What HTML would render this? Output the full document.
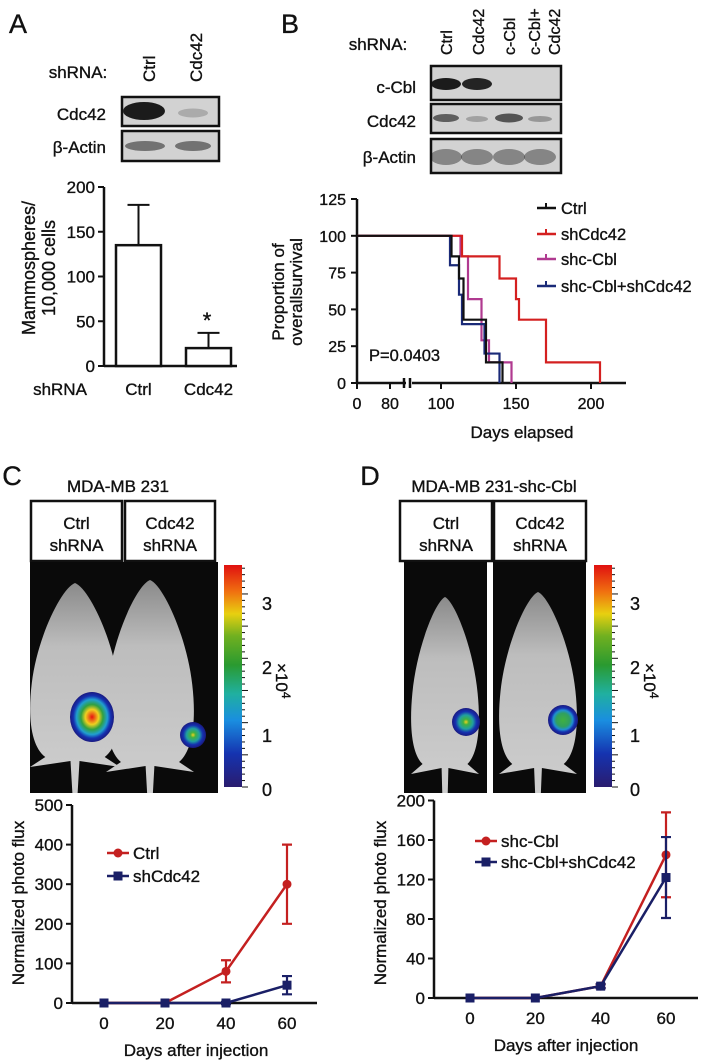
<!DOCTYPE html>
<html><head><meta charset="utf-8"><style>
html,body{margin:0;padding:0;background:#fff}
svg{display:block;font-family:"Liberation Sans",Arial,sans-serif}
svg text{stroke:#111;stroke-width:0.35px}
</style></head><body>
<svg id="fig" width="705" height="1064" viewBox="0 0 705 1064" xmlns="http://www.w3.org/2000/svg">
<defs>
<linearGradient id="cbar" x1="0" y1="1" x2="0" y2="0">
<stop offset="0" stop-color="#2a1c6e"/><stop offset="0.15" stop-color="#1533b0"/><stop offset="0.3" stop-color="#1a8ee0"/>
<stop offset="0.42" stop-color="#20b0a0"/><stop offset="0.55" stop-color="#2a9a30"/><stop offset="0.68" stop-color="#70b020"/>
<stop offset="0.78" stop-color="#e8d010"/><stop offset="0.88" stop-color="#f07010"/><stop offset="1" stop-color="#e01010"/>
</linearGradient>
<radialGradient id="blob"><stop offset="0" stop-color="#e81010"/><stop offset="0.3" stop-color="#f0d020"/><stop offset="0.5" stop-color="#30a040"/><stop offset="0.7" stop-color="#20a0d0"/><stop offset="0.85" stop-color="#1530b0"/><stop offset="1" stop-color="#1a1a80"/></radialGradient>
<radialGradient id="blobS"><stop offset="0" stop-color="#f0d020"/><stop offset="0.2" stop-color="#40b040"/><stop offset="0.5" stop-color="#20a0a0"/><stop offset="0.75" stop-color="#1530b0"/><stop offset="1" stop-color="#1a1a80"/></radialGradient>
<radialGradient id="blobG"><stop offset="0" stop-color="#40b040"/><stop offset="0.45" stop-color="#30a060"/><stop offset="0.65" stop-color="#2090d0"/><stop offset="0.8" stop-color="#1530b0"/><stop offset="1" stop-color="#1a1a80"/></radialGradient>
<linearGradient id="fur" x1="0" y1="0" x2="0" y2="1"><stop offset="0" stop-color="#8a8a8a"/><stop offset="0.3" stop-color="#bdbdbd"/><stop offset="1" stop-color="#cfcfcf"/></linearGradient>
<clipPath id="clipC"><rect x="30" y="562" width="188" height="231"/></clipPath>
<clipPath id="clipD1"><rect x="404" y="562" width="83" height="231"/></clipPath>
<clipPath id="clipD2"><rect x="493" y="562" width="93" height="231"/></clipPath>
</defs>
</svg>
<script>
// ---------- data ----------
const barCats = ['Ctrl', 'Cdc42'];
const barVals = [135, 20];
const barErr = [45, 17];
const barTicks = [0, 50, 100, 150, 200];

const kmNames = ['Ctrl', 'shCdc42', 'shc-Cbl', 'shc-Cbl+shCdc42'];
const kmColors = ['#111111', '#d42020', '#b03a90', '#1a2a78'];
const kmTimesCtrl = [107, 112, 115, 130, 141];
const kmSurvCtrl = [86, 71, 43, 14, 0];
const kmTimesSh = [114, 139, 150, 152, 170, 206];
const kmSurvSh = [86, 71, 57, 43, 14, 0];
const kmTimesCbl = [113, 118, 127, 132, 147];
const kmSurvCbl = [86, 57, 29, 14, 0];
const kmTimesBoth = [106, 112, 114, 129, 139];
const kmSurvBoth = [80, 60, 40, 20, 0];
const kmYTicks = [0, 25, 50, 75, 100, 125];
const kmXTicks = [0, 80, 100, 150, 200];

const fluxDays = [0, 20, 40, 60];
const cCtrl = [0, 0, 80, 300];
const cCtrlErr = [0, 0, 28, 100];
const cSh = [0, 0, 0, 45];
const cShErr = [0, 0, 3, 23];
const cYTicks = [0, 100, 200, 300, 400, 500];
const dCbl = [0, 0, 12, 145];
const dCblErr = [0, 0, 2, 43];
const dBoth = [0, 0, 12, 122];
const dBothErr = [0, 0, 2, 41];
const dYTicks = [0, 40, 80, 120, 160, 200];

const NS = 'http://www.w3.org/2000/svg';
const svg = document.getElementById('fig');
function mk(tag, attrs, parent) {
  const e = document.createElementNS(NS, tag);
  for (const k in attrs) e.setAttribute(k, attrs[k]);
  (parent || svg).appendChild(e);
  return e;
}
function txt(x, y, s, size, opts) {
  opts = opts || {};
  const t = mk('text', {x: x, y: y, 'font-size': size, 'text-anchor': opts.anchor || 'middle', fill: opts.fill || '#111'}, opts.parent);
  if (opts.rot) t.setAttribute('transform', 'rotate(' + opts.rot + ' ' + x + ' ' + y + ')');
  t.textContent = s;
  return t;
}

// ---------- Panel labels ----------
let e;
e = txt(18, 33, 'A', 27, {});


e = txt(290, 33, 'B', 27, {});


e = txt(12, 485, 'C', 27, {});


e = txt(370, 485, 'D', 27, {});



// ---------- Blots ----------
function blotBox(x, y, w, h, name) {
  const b = mk('rect', {x: x, y: y, width: w, height: h, fill: '#d2d2d2', stroke: '#111', 'stroke-width': 2.5});
  
  
  return b;
}
function band(cx, cy, w, h, op, name) {
  const b = mk('ellipse', {cx: cx, cy: cy, rx: w / 2, ry: h / 2, fill: '#111', opacity: op});
  
  
}
e = txt(78, 78, 'shRNA:', 17, {});


e = txt(155, 82, 'Ctrl', 17, {anchor: 'start', rot: -90});


e = txt(202, 82, 'Cdc42', 17, {anchor: 'start', rot: -90});


blotBox(122, 97, 97, 29, 'blot-a-cdc42');
band(144, 111, 42, 18, 0.95, 'band-a-cdc42-ctrl');
band(193, 113, 30, 9, 0.2, 'band-a-cdc42-kd');
blotBox(122, 131, 97, 30, 'blot-a-actin');
band(145, 146, 40, 10, 0.5, 'band-a-actin-ctrl');
band(193, 146, 36, 10, 0.5, 'band-a-actin-kd');
e = txt(106, 120, 'Cdc42', 17, {anchor: 'end'});


e = txt(106, 153, 'β-Actin', 17, {anchor: 'end'});



e = txt(378, 50, 'shRNA:', 17, {});


const laneB = [['Ctrl'], ['Cdc42'], ['c-Cbl'], ['c-Cbl+', 'Cdc42']];
const laneX = [452, 484, 515, 540];
laneB.forEach((l, i) => {
  l.forEach((s, j) => {
    const t = txt(laneX[i] + j * 20, 55, s, 16, {anchor: 'start', rot: -90});
    
    
  });
});
blotBox(431, 66, 130, 34, 'blot-b-ccbl');
blotBox(431, 104, 130, 29, 'blot-b-cdc42');
blotBox(431, 139, 130, 34, 'blot-b-actin');
band(446, 84, 30, 12, 0.95, 'band-b-ccbl-1');
band(477, 84, 30, 12, 0.9, 'band-b-ccbl-2');
band(446, 118, 26, 8, 0.6, 'band-b-cdc42-1');
band(477, 119, 22, 6, 0.25, 'band-b-cdc42-2');
band(509, 118, 28, 9, 0.65, 'band-b-cdc42-3');
band(540, 119, 24, 6, 0.3, 'band-b-cdc42-4');
[446, 477, 509, 540].forEach(x => band(x, 157, 32, 16, 0.4, 'band-b-actin'));
[['c-Cbl', 93], ['Cdc42', 127], ['β-Actin', 163]].forEach(p => {
  const t = txt(416, p[1], p[0], 17, {anchor: 'end'});
  
  
});

// ---------- Bar chart A ----------
const yA = v => 366 - v * (179 / 200);
const xA = i => 138.5 + i * 70;
const gA = mk('g', {});


e = mk('line', {x1: 104, y1: yA(200), x2: 104, y2: 366, stroke: '#111', 'stroke-width': 2.5}, gA);


e = mk('line', {x1: 104, y1: 366, x2: 237, y2: 366, stroke: '#111', 'stroke-width': 2.5}, gA);


barTicks.forEach(v => {
  const l = mk('line', {x1: 98, y1: yA(v), x2: 104, y2: yA(v), stroke: '#111', 'stroke-width': 2}, gA);
  
  
  const t = txt(95, yA(v) + 6, String(v), 17, {anchor: 'end', parent: gA});
  
  
});
barCats.forEach((c, i) => {
  const er = mk('line', {x1: xA(i), y1: yA(barVals[i] + barErr[i]), x2: xA(i), y2: yA(barVals[i]), stroke: '#111', 'stroke-width': 2}, gA);
  
  
  const cap = mk('line', {x1: xA(i) - 11, y1: yA(barVals[i] + barErr[i]), x2: xA(i) + 11, y2: yA(barVals[i] + barErr[i]), stroke: '#111', 'stroke-width': 2}, gA);
  
  
  const b = mk('rect', {x: xA(i) - 22.5, y: yA(barVals[i]), width: 45, height: 366 - yA(barVals[i]), fill: '#fff', stroke: '#111', 'stroke-width': 2.5}, gA);
  
  
  const t = txt(xA(i), 395, c, 17, {parent: gA});
  
  
});
e = txt(207, 328, '*', 22, {});


e = txt(60, 395, 'shRNA', 17, {});


e = txt(35, 268, 'Mammospheres/', 18, {rot: -90});


e = txt(55, 268, '10,000 cells', 18, {rot: -90});



// ---------- KM chart B ----------
const yK = v => 383 - v * (184 / 125);
const xK = d => d <= 80 ? 357 + d * (33 / 80) : 441 + (d - 100) * 1.5;
const gK = mk('g', {});


e = mk('line', {x1: 357, y1: yK(125), x2: 357, y2: 383, stroke: '#111', 'stroke-width': 2.5}, gK);


e = mk('path', {d: 'M357 383 H406 M412 383 H626 M404 378 V388 M410 378 V388', stroke: '#111', 'stroke-width': 2.5, fill: 'none'}, gK);


kmYTicks.forEach(v => {
  const l = mk('line', {x1: 351, y1: yK(v), x2: 357, y2: yK(v), stroke: '#111', 'stroke-width': 2}, gK);
  
  
  const t = txt(346, yK(v) + 6, String(v), 16, {anchor: 'end', parent: gK});
  
  
});
kmXTicks.forEach(v => {
  const l = mk('line', {x1: xK(v), y1: 383, x2: xK(v), y2: 389, stroke: '#111', 'stroke-width': 2}, gK);
  
  
  const t = txt(xK(v), 409, String(v), 16, {parent: gK});
  
  
});
const kmT = [kmTimesCtrl, kmTimesSh, kmTimesCbl, kmTimesBoth];
const kmS = [kmSurvCtrl, kmSurvSh, kmSurvCbl, kmSurvBoth];
[2, 3, 1, 0].forEach(g => {
  let d = 'M' + xK(0) + ' ' + yK(100);
  kmT[g].forEach((t, i) => {
    d += ' H' + xK(t) + ' V' + yK(kmS[g][i]);
  });
  const p = mk('path', {d: d, stroke: kmColors[g], 'stroke-width': 2.2, fill: 'none'}, gK);
  
  
});
kmNames.forEach((n, i) => {
  const y = [208, 234, 259, 286][i];
  const l = mk('line', {x1: 537, y1: y, x2: 556, y2: y, stroke: kmColors[i], 'stroke-width': 2.5}, gK);
  
  
  const tk = mk('line', {x1: 546, y1: y - 5, x2: 546, y2: y, stroke: kmColors[i], 'stroke-width': 2}, gK);
  
  
  const t = txt(561, y + 6, n, 16.5, {anchor: 'start', parent: gK});
  
  
});
e = txt(369, 361, 'P=0.0403', 16.5, {anchor: 'start'});


e = txt(522, 438, 'Days elapsed', 17, {});


e = txt(284, 292, 'Proportion of', 17, {rot: -90});


e = txt(302, 292, 'overallsurvival', 17, {rot: -90});



// ---------- Imaging panels ----------
function labelBox(x, w, l1, l2, name) {
  const r = mk('rect', {x: x, y: 501, width: w, height: 60, fill: '#fff', stroke: '#111', 'stroke-width': 2.5});
  
  
  const a = txt(x + w / 2, 529, l1, 17, {});
  
  
  const b = txt(x + w / 2, 551, l2, 17, {});
  
  
}
function mouse(cx, top, bot, w, clip, name) {
  const h = bot - top;
  const d = 'M' + cx + ' ' + top +
    ' C' + (cx + w * 0.15) + ' ' + (top + 5) + ' ' + (cx + w * 0.42) + ' ' + (top + h * 0.3) + ' ' + (cx + w * 0.48) + ' ' + (top + h * 0.55) +
    ' C' + (cx + w * 0.53) + ' ' + (top + h * 0.75) + ' ' + (cx + w * 0.48) + ' ' + (top + h * 0.9) + ' ' + (cx + w * 0.33) + ' ' + (bot - 8) +
    ' L' + (cx + w * 0.5) + ' ' + (bot + 2) + ' L' + (cx + w * 0.05) + ' ' + (bot - 4) + ' L' + (cx + 2.5) + ' ' + (bot + 30) + ' L' + (cx - 2.5) + ' ' + (bot + 30) +
    ' L' + (cx - w * 0.05) + ' ' + (bot - 4) + ' L' + (cx - w * 0.5) + ' ' + (bot + 2) + ' L' + (cx - w * 0.33) + ' ' + (bot - 8) +
    ' C' + (cx - w * 0.48) + ' ' + (top + h * 0.9) + ' ' + (cx - w * 0.53) + ' ' + (top + h * 0.75) + ' ' + (cx - w * 0.48) + ' ' + (top + h * 0.55) +
    ' C' + (cx - w * 0.42) + ' ' + (top + h * 0.3) + ' ' + (cx - w * 0.15) + ' ' + (top + 5) + ' ' + cx + ' ' + top + 'Z';
  const p = mk('path', {d: d, fill: 'url(#fur)', 'clip-path': 'url(#' + clip + ')'});
  
  
}
function blob(cx, cy, rx, ry, grad, name) {
  const b = mk('ellipse', {cx: cx, cy: cy, rx: rx, ry: ry, fill: 'url(#' + grad + ')'});
  
  
}
function colorbar(x, labX, name) {
  const r = mk('rect', {x: x, y: 565, width: 18, height: 222, fill: 'url(#cbar)'});
  
  
  for (let i = 0; i <= 34; i++) {
    const y = 787 - i * (222 / 34.5);
    const l = mk('line', {x1: x + 18, y1: y, x2: x + (i % 5 === 0 ? 24 : 21), y2: y, stroke: '#111', 'stroke-width': 1});
    
    
  }
  [[0, 796], [1, 742], [2, 674], [3, 610]].forEach(p => {
    const t = txt(labX, p[1], String(p[0]), 18, {anchor: 'start'});
    
    
  });
  const u = mk('text', {x: labX + 14, y: 663, 'font-size': 17, transform: 'rotate(90 ' + (labX + 14) + ' 663)', fill: '#111'});
  u.innerHTML = '×10<tspan dy="-6" font-size="12">4</tspan>';
  
  
}
e = txt(118, 492, 'MDA-MB 231', 17, {});


labelBox(31, 91, 'Ctrl', 'shRNA', 'label-c-ctrl');
labelBox(125, 90, 'Cdc42', 'shRNA', 'label-c-cdc42');
e = mk('rect', {x: 30, y: 562, width: 188, height: 231, fill: '#0a0a0a'});


mouse(75, 583, 765, 90, 'clipC', 'mouse-c-ctrl');
mouse(150, 580, 770, 88, 'clipC', 'mouse-c-cdc42');
blob(92, 717, 22, 25, 'blob', 'tumor-signal-c-ctrl');
blob(193, 735, 13, 13, 'blobS', 'tumor-signal-c-cdc42');
colorbar(224, 262, 'colorbar-c');
e = txt(494, 492, 'MDA-MB 231-shc-Cbl', 17, {});


labelBox(400, 92, 'Ctrl', 'shRNA', 'label-d-ctrl');
labelBox(494, 92, 'Cdc42', 'shRNA', 'label-d-cdc42');
e = mk('rect', {x: 404, y: 562, width: 83, height: 231, fill: '#0a0a0a'});


e = mk('rect', {x: 493, y: 562, width: 93, height: 231, fill: '#0a0a0a'});


mouse(445, 597, 772, 68, 'clipD1', 'mouse-d-ctrl');
mouse(538, 592, 772, 78, 'clipD2', 'mouse-d-cdc42');
blob(466, 722, 14, 14, 'blobS', 'tumor-signal-d-ctrl');
blob(563, 720, 15, 15, 'blobG', 'tumor-signal-d-cdc42');
colorbar(594, 630, 'colorbar-d');

// ---------- Line charts ----------
function lineChart(o) {
  const g = mk('g', {});
  
  
  const yS = v => o.y0 - v * o.ky;
  const xS = d => o.x0 + d * o.kx;
  const top = yS(o.ticks[o.ticks.length - 1]);
  let a = mk('line', {x1: o.ax, y1: top, x2: o.ax, y2: o.y0, stroke: '#111', 'stroke-width': 2.5}, g);
  
  
  a = mk('line', {x1: o.ax, y1: o.y0, x2: o.axEnd, y2: o.y0, stroke: '#111', 'stroke-width': 2.5}, g);
  
  
  o.ticks.forEach(v => {
    const l = mk('line', {x1: o.ax - 6, y1: yS(v), x2: o.ax, y2: yS(v), stroke: '#111', 'stroke-width': 2}, g);
    
    
    const t = txt(o.ax - 9, yS(v) + 6, String(v), 17, {anchor: 'end', parent: g});
    
    
  });
  fluxDays.forEach(d => {
    const t = txt(xS(d), o.y0 + 26, String(d), 17, {parent: g});
    
    
  });
  o.series.forEach((s, si) => {
    const pts = fluxDays.map((d, i) => xS(d) + ',' + yS(s.vals[i])).join(' ');
    const pl = mk('polyline', {points: pts, fill: 'none', stroke: s.color, 'stroke-width': 2.5}, g);
    
    
    fluxDays.forEach((d, i) => {
      if (s.err[i] > 0) {
        const x = xS(d), y1 = yS(s.vals[i] + s.err[i]), y2 = yS(s.vals[i] - s.err[i]);
        const eb = mk('path', {d: 'M' + x + ' ' + y1 + ' V' + y2 + ' M' + (x - 5) + ' ' + y1 + ' H' + (x + 5) + ' M' + (x - 5) + ' ' + y2 + ' H' + (x + 5), stroke: s.color, 'stroke-width': 2.2, fill: 'none'}, g);
        
        
      }
      const m = s.sq ? mk('rect', {x: xS(d) - 4.5, y: yS(s.vals[i]) - 4.5, width: 9, height: 9, fill: s.color}, g)
                     : mk('circle', {cx: xS(d), cy: yS(s.vals[i]), r: 4.5, fill: s.color}, g);
      
      
    });
    const ly = o.legY[si];
    const ll = mk('line', {x1: o.legX, y1: ly, x2: o.legX + 22, y2: ly, stroke: s.color, 'stroke-width': 2.5}, g);
    
    
    const lm = s.sq ? mk('rect', {x: o.legX + 6.5, y: ly - 4.5, width: 9, height: 9, fill: s.color}, g)
                    : mk('circle', {cx: o.legX + 11, cy: ly, r: 4.5, fill: s.color}, g);
    
    
    const lt = txt(o.legX + 26, ly + 6, s.label, 17, {anchor: 'start', parent: g});
    
    
  });
  let t = txt(o.titleX, o.y0 + 53, 'Days after injection', 17, {parent: g});
  
  
  t = txt(o.yTitleX, 903, 'Normalized photo flux', 17, {rot: -90, parent: g});
  
  
}
lineChart({name: 'flux-chart-c', x0: 104, kx: 183 / 60, y0: 1003, ky: 39.6 / 100, ax: 72, axEnd: 317, ticks: cYTicks,
  legX: 107, legY: [853, 876], titleX: 196, yTitleX: 24,
  series: [
    {key: 'ctrl', label: 'Ctrl', color: '#c42020', vals: cCtrl, err: cCtrlErr, sq: false},
    {key: 'shcdc42', label: 'shCdc42', color: '#1a1f66', vals: cSh, err: cShErr, sq: true}
  ]});
lineChart({name: 'flux-chart-d', x0: 470, kx: 196 / 60, y0: 998, ky: 39.5 / 40, ax: 434, axEnd: 698, ticks: dYTicks,
  legX: 475, legY: [841, 862], titleX: 566, yTitleX: 386,
  series: [
    {key: 'shccbl', label: 'shc-Cbl', color: '#c42020', vals: dCbl, err: dCblErr, sq: false},
    {key: 'shccbl-shcdc42', label: 'shc-Cbl+shCdc42', color: '#1a1f66', vals: dBoth, err: dBothErr, sq: true}
  ]});
</script>
</body></html>
